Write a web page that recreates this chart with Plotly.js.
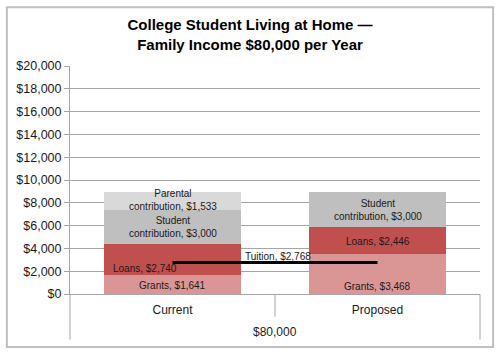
<!DOCTYPE html>
<html>
<head>
<meta charset="utf-8">
<script src="https://cdn.plot.ly/plotly-3.0.1.min.js"></script>
<style>html,body{margin:0;padding:0;background:#fff;}#chart{width:500px;height:354px;}</style>
</head>
<body>
<div id="chart"></div>
<script>
var categories = ["Current", "Proposed"];
var groupLabel = "$80,000";
var grants = [1641, 3468];
var loans = [2740, 2446];
var studentContribution = [3000, 3000];
var parentalContribution = [1533, null];
var tuition = [2768, 2768];
var yTickVals = [0, 2000, 4000, 6000, 8000, 10000, 12000, 14000, 16000, 18000, 20000];
var yTickText = ["$0", "$2,000", "$4,000", "$6,000", "$8,000", "$10,000", "$12,000", "$14,000", "$16,000", "$18,000", "$20,000"];

function money(v) { return "$" + v.toLocaleString("en-US"); }

var font = "Liberation Sans, Arial, sans-serif";
var traces = [
  {type: "bar", x: categories, y: grants, name: "Grants", marker: {color: "#DA9694"}, hoverinfo: "skip"},
  {type: "bar", x: categories, y: loans, name: "Loans", marker: {color: "#C0504D"}, hoverinfo: "skip"},
  {type: "bar", x: categories, y: studentContribution, name: "Student contribution", marker: {color: "#BFBFBF"}, hoverinfo: "skip"},
  {type: "bar", x: categories, y: parentalContribution, name: "Parental contribution", marker: {color: "#D9D9D9"}, hoverinfo: "skip"},
  {type: "scatter", mode: "lines", x: categories, y: tuition, name: "Tuition", line: {color: "#000", width: 3}, hoverinfo: "skip"}
];

var lf = {family: font, size: 10, color: "#1a1a1a"};
function ann(x, y, text, extra) {
  var a = {x: x, y: y, xref: "x", yref: "y", text: text, showarrow: false, font: lf, xanchor: "center", yanchor: "middle"};
  for (var k in extra) a[k] = extra[k];
  return a;
}
var annotations = [
  ann(0, 720, "Grants, " + money(grants[0])),
  ann(0, 2280, "Loans, " + money(loans[0]), {xshift: -28}),
  ann(0, grants[0] + loans[0] + studentContribution[0] / 2, "Student<br>contribution, " + money(studentContribution[0])),
  ann(0, 8245, "Parental<br>contribution, " + money(parentalContribution[0])),
  ann(1, 640, "Grants, " + money(grants[1])),
  ann(1, 4590, "Loans, " + money(loans[1])),
  ann(1, grants[1] + loans[1] + studentContribution[1] / 2 - 40, "Student<br>contribution, " + money(studentContribution[1])),
  ann(0.345, 3330, "Tuition, " + money(tuition[0]), {xanchor: "left"}),
  {x: 0.5, y: -0.168, xref: "paper", yref: "paper", text: groupLabel, showarrow: false,
   font: {family: font, size: 12, color: "#1a1a1a"}, xanchor: "center", yanchor: "middle"}
];

var shapes = [
  {type: "rect", xref: "paper", yref: "paper", x0: -0.154, x1: 1.032, y0: -0.232, y1: 1.258,
   line: {color: "#BFBFBF", width: 2}, fillcolor: "rgba(0,0,0,0)", layer: "below"},
  {type: "line", xref: "paper", yref: "paper", x0: 0, x1: 0, y0: 0, y1: -0.2, line: {color: "#A6A6A6", width: 1}},
  {type: "line", xref: "paper", yref: "paper", x0: 1, x1: 1, y0: 0, y1: -0.2, line: {color: "#A6A6A6", width: 1}},
  {type: "line", xref: "paper", yref: "paper", x0: 0.5, x1: 0.5, y0: 0, y1: -0.1, line: {color: "#A6A6A6", width: 1}}
];

var layout = {
  width: 500, height: 354,
  margin: {l: 70, r: 20, t: 66, b: 60},
  paper_bgcolor: "#fff", plot_bgcolor: "#fff",
  barmode: "stack", bargap: 0.335,
  showlegend: false,
  title: {text: "<b>College Student Living at Home —<br>Family Income $80,000 per Year</b>",
          x: 0.5, xref: "container", xanchor: "center", y: 0.915, yref: "container", yanchor: "top",
          font: {family: font, size: 15, color: "#000"}},
  xaxis: {type: "category", showgrid: false, showline: true, linecolor: "#A6A6A6", linewidth: 1,
          ticks: "", ticklabelstandoff: 5, tickfont: {family: font, size: 12, color: "#1a1a1a"}, fixedrange: true},
  yaxis: {range: [0, 20000], tickvals: yTickVals, ticktext: yTickText, showgrid: true, gridcolor: "#A6A6A6", gridwidth: 1,
          showline: true, linecolor: "#A6A6A6", linewidth: 1, ticks: "outside", ticklen: 5, tickcolor: "#A6A6A6",
          zeroline: false, tickfont: {family: font, size: 12.5, color: "#1a1a1a"}, fixedrange: true},
  annotations: annotations,
  shapes: shapes
};

Plotly.newPlot("chart", traces, layout, {displayModeBar: false, staticPlot: true});
</script>
</body>
</html>
